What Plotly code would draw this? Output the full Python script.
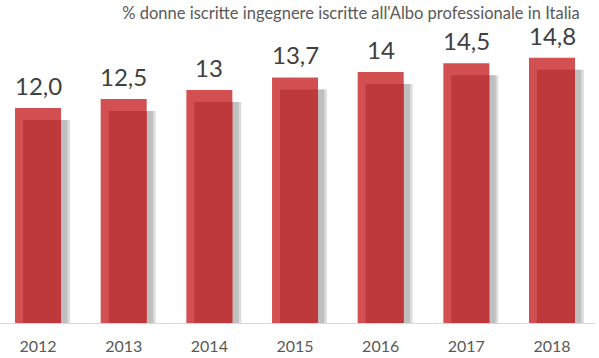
import plotly.graph_objects as go

years = ["2012", "2013", "2014", "2015", "2016", "2017", "2018"]
values = [12.0, 12.5, 13.0, 13.7, 14.0, 14.5, 14.8]
labels = ["12,0", "12,5", "13", "13,7", "14", "14,5", "14,8"]
title = "% donne iscritte ingegnere iscritte all'Albo professionale in Italia"

idx = list(range(len(years)))
W = 0.537          # bar width (category units)
DX = 0.093         # shadow x offset (category units)
DY = 0.67          # shadow y drop (value units)

fig = go.Figure()
# shadow
fig.add_trace(go.Bar(x=idx, y=[v - DY for v in values], width=W, offset=-W / 2 + DX + 0.01,
                     marker=dict(color="rgba(150,150,150,0.35)", line=dict(width=0)),
                     hoverinfo="skip", showlegend=False))
fig.add_trace(go.Bar(x=idx, y=[v - DY for v in values], width=W - 0.02, offset=-W / 2 + DX,
                     marker=dict(color="#BFBFBF", line=dict(width=0)),
                     hoverinfo="skip", showlegend=False))
# main bar (lighter)
fig.add_trace(go.Bar(x=idx, y=values, width=W, offset=-W / 2,
                     marker=dict(color="#D35052", line=dict(width=0)),
                     hoverinfo="skip", showlegend=False))
# darker overlap
fig.add_trace(go.Bar(x=idx, y=[v - DY for v in values], width=W - DX, offset=-W / 2 + DX,
                     marker=dict(color="#BE393B", line=dict(width=0)),
                     hoverinfo="skip", showlegend=False))

for i, v, t in zip(idx, values, labels):
    fig.add_annotation(x=i, y=v, text=t, showarrow=False, yanchor="bottom", yshift=6,
                       font=dict(family="Lato", size=24, color="#404040"))

fig.update_layout(
    width=599, height=358,
    margin=dict(l=0, r=4, t=30, b=35, autoexpand=False),
    paper_bgcolor="white", plot_bgcolor="white",
    barmode="overlay",
    title=dict(text=title, x=351 / 599, xanchor="center", xref="container",
               y=1 - 13 / 358, yanchor="middle", yref="container",
               font=dict(family="Lato", size=16.5, color="#595959")),
    xaxis=dict(range=[-0.444, 6.502], tickmode="array", tickvals=idx, ticktext=years,
               showgrid=False, zeroline=False, showline=True, linecolor="#D9D9D9", linewidth=1,
               ticks="", ticklabelstandoff=9, automargin=False,
               tickfont=dict(family="Lato", size=16, color="#595959")),
    yaxis=dict(range=[0, 16.35], visible=False, showgrid=False, zeroline=False),
)

fig.write_html("out.html", config={"displayModeBar": False},
               post_script="document.body.style.margin='0';")
